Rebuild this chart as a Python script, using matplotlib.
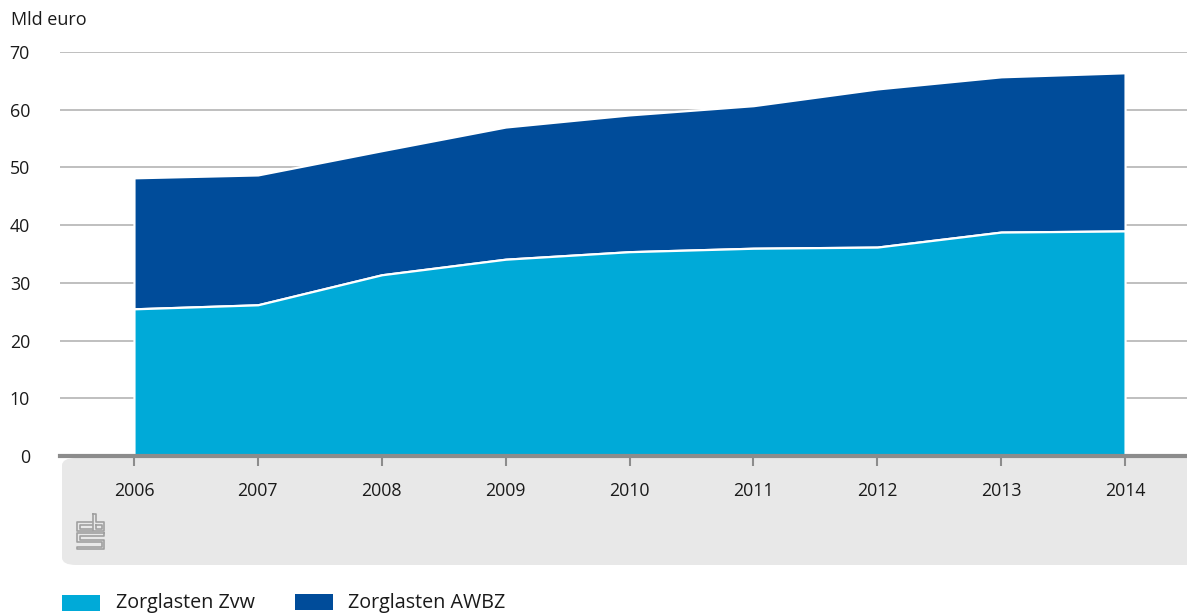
import matplotlib
matplotlib.use("Agg")
import matplotlib.pyplot as plt
from matplotlib.patches import FancyBboxPatch, Rectangle
from matplotlib.lines import Line2D

plt.rcParams['font.family'] = ['Open Sans', 'DejaVu Sans']

# Healthcare expenditure, billion euro
years = [2006, 2007, 2008, 2009, 2010, 2011, 2012, 2013, 2014]
zvw = [25.5, 26.2, 31.4, 34.1, 35.4, 36.0, 36.2, 38.8, 39.0]
awbz = [22.7, 22.5, 21.5, 22.9, 23.7, 24.7, 27.4, 26.9, 27.4]
yticks = [0, 10, 20, 30, 40, 50, 60, 70]
series_names = ["Zorglasten Zvw", "Zorglasten AWBZ"]

c_zvw = "#00AAD8"
c_awbz = "#004C9A"
grid_c = "#b4b4b4"
axis_c = "#8c8c8c"
panel_c = "#e8e8e8"
text_c = "#1a1a1a"

W, H = 1187, 613
fig = plt.figure(figsize=(W / 100, H / 100), dpi=100)


def fx(px):
    return px / W


def fy(py):
    return 1 - py / H


# gray panel behind the category axis
panel = FancyBboxPatch((fx(62), fy(565)), fx(1200 - 62), fy(458) - fy(565),
                       boxstyle="round,pad=0,rounding_size=0.012",
                       transform=fig.transFigure, facecolor=panel_c,
                       edgecolor="none", zorder=-5)
fig.patches.append(panel)

ax = fig.add_axes([fx(60), fy(456), fx(1187) - fx(60), fy(52) - fy(456)])
ax.set_facecolor("none")
ax.set_zorder(2)

total = [a + b for a, b in zip(zvw, awbz)]
ax.fill_between(years, 0, zvw, facecolor=c_zvw, edgecolor="white",
                linewidth=1.6, zorder=3)
ax.fill_between(years, zvw, total, facecolor=c_awbz, edgecolor="white",
                linewidth=1.6, zorder=2)

ax.set_xlim(2005.403, 2014.5)
ax.set_ylim(0, 70)
ax.set_yticks(yticks)
ax.set_yticklabels([str(v) for v in yticks])
ax.set_xticks(years)
ax.set_xticklabels([str(y) for y in years])

for v in yticks[1:]:
    ax.axhline(v, color=grid_c, linewidth=1.2, zorder=1)

for s in ["top", "right", "left"]:
    ax.spines[s].set_visible(False)
ax.spines["bottom"].set_color(axis_c)
ax.spines["bottom"].set_linewidth(3)
ax.spines["bottom"].set_zorder(5)

ax.tick_params(axis="y", length=0, pad=21.6, labelsize=12.8, labelcolor=text_c)
ax.tick_params(axis="x", length=7, width=1.5, color=axis_c, direction="out",
               pad=12, labelsize=12.8, labelcolor=text_c)
for lab in ax.get_yticklabels():
    lab.set_horizontalalignment("right")

fig.text(fx(11), fy(20), "Mld euro", fontsize=13, color=text_c,
         ha="left", va="center")

# cbs logo, drawn as outlined strokes
lc = "#a0a0a0"
x0, y0 = 77, 514


def logo_line(pts):
    xs = [fx(x0 + p[0]) for p in pts]
    ys = [fy(y0 + p[1]) for p in pts]
    fig.add_artist(Line2D(xs, ys, color=lc, linewidth=1.2,
                          transform=fig.transFigure, zorder=2))


# "c"
logo_line([(15, 8), (0, 8), (0, 17), (15, 17)])
logo_line([(15, 10.5), (2.5, 10.5), (2.5, 14.5), (15, 14.5)])
# "b"
logo_line([(16, 0), (19, 0), (19, 8), (27, 8), (27, 17), (16, 17), (16, 0)])
logo_line([(19, 10.5), (24.5, 10.5), (24.5, 14.5), (19, 14.5), (19, 10.5)])
# "s"
logo_line([(27, 19), (0, 19), (0, 28), (24.5, 28), (24.5, 32.5), (0, 32.5),
           (0, 35), (27, 35), (27, 25.5), (2.5, 25.5), (2.5, 21.5),
           (27, 21.5), (27, 19)])

# legend
fig.patches.append(Rectangle((fx(62), fy(611)), fx(38), fy(595) - fy(611),
                             transform=fig.transFigure, facecolor=c_zvw,
                             edgecolor="none"))
fig.patches.append(Rectangle((fx(295), fy(610)), fx(38), fy(594) - fy(610),
                             transform=fig.transFigure, facecolor=c_awbz,
                             edgecolor="none"))
fig.text(fx(116), fy(603), series_names[0], fontsize=14.2, color=text_c,
         ha="left", va="center")
fig.text(fx(348), fy(603), series_names[1], fontsize=14.2, color=text_c,
         ha="left", va="center")

fig.savefig("out.png", dpi=100)
